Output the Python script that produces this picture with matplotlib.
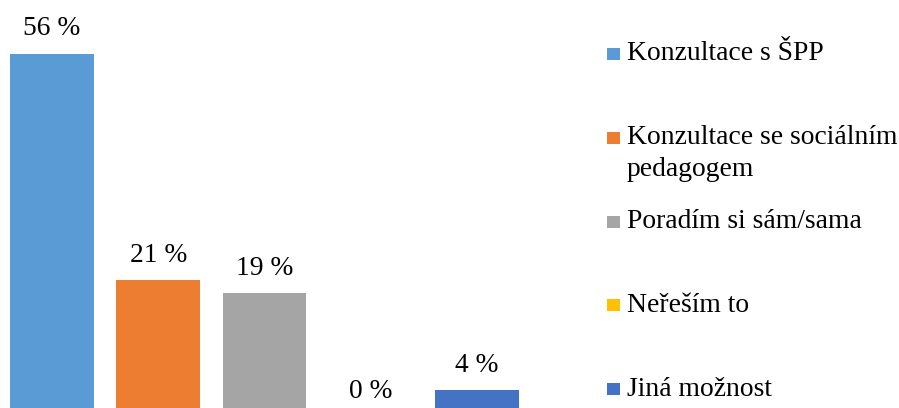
import matplotlib.pyplot as plt
from matplotlib.patches import Rectangle

plt.rcParams['font.family'] = ['Liberation Serif', 'DejaVu Serif']

# data
categories = ["Konzultace s ŠPP", "Konzultace se sociálním\npedagogem",
              "Poradím si sám/sama", "Neřeším to", "Jiná možnost"]
values = [56, 21, 19, 0, 4]
colors = ["#5B9BD5", "#ED7D31", "#A5A5A5", "#FFC000", "#4472C4"]

W, H = 899, 408
fig = plt.figure(figsize=(W / 100, H / 100), dpi=100)

# axes placed in pixels, baseline sits a bit below the picture edge
ax = fig.add_axes([-1 / W, -8 / H, 531 / W, 388 / H])
x = range(len(values))
ax.bar(x, values, width=0.79, color=colors)
ax.set_xlim(-0.5, 4.5)
ax.set_ylim(0, 60)
ax.axis('off')

for i, v in enumerate(values):
    ax.annotate(f"{v} %", (i, v), xytext=(0, 18), textcoords='offset points',
                ha='center', va='center', fontsize=19.8, color='black')

# legend drawn by hand, entries spaced evenly
y0, step, line_h = 54, 83.75, 32
for i, (lab, c) in enumerate(zip(categories, colors)):
    yc = y0 + i * step
    fig.add_artist(Rectangle((607 / W, 1 - (yc + 6) / H), 13 / W, 12 / H,
                             transform=fig.transFigure, color=c, lw=0))
    for j, line in enumerate(lab.split("\n")):
        fig.text(627 / W, 1 - (yc + j * line_h) / H, line, fontsize=19.9,
                 ha='left', va='center', color='black')

fig.savefig("out.png", dpi=100)
